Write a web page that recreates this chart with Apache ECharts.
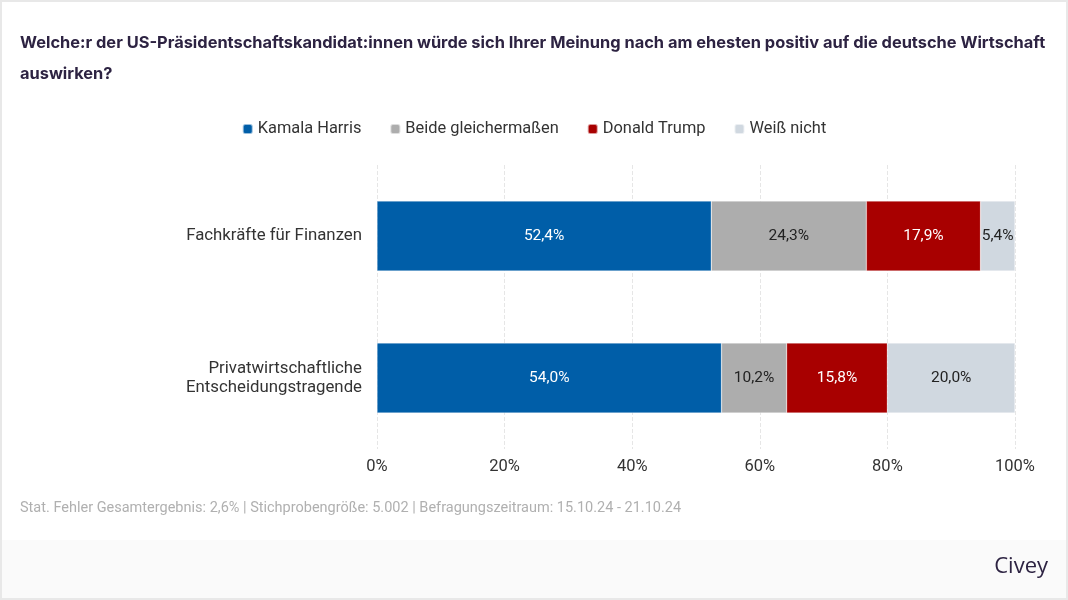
<!DOCTYPE html>
<html><head><meta charset="utf-8">
<script src="https://cdn.jsdelivr.net/npm/echarts@6/dist/echarts.min.js"></script>
<style>
html,body{margin:0;padding:0;background:#fff;}
#wrap{position:relative;width:1068px;height:600px;box-sizing:border-box;border:2px solid #e8e8e8;overflow:hidden;}
#chart{position:absolute;left:-2px;top:-2px;width:1068px;height:600px;}
</style></head>
<body><div id="wrap"><div id="chart"></div></div>
<script>
const categories = ['Fachkräfte für Finanzen', 'Privatwirtschaftliche\nEntscheidungstragende'];
const seriesNames = ['Kamala Harris', 'Beide gleichermaßen', 'Donald Trump', 'Weiß nicht'];
const harris = [52.4, 54.0];
const beide = [24.3, 10.2];
const trump = [17.9, 15.8];
const weissNicht = [5.4, 20.0];
const xTicks = [0, 20, 40, 60, 80, 100];

const colors = ['#005ea8', '#adadad', '#a80000', '#d0d8e0'];
const labelColors = ['#ffffff', '#222222', '#ffffff', '#222222'];
const values = [harris, beide, trump, weissNicht];

const chart = echarts.init(document.getElementById('chart'));
chart.setOption({
  animation: false,
  title: {
    text: 'Welche:r der US-Präsidentschaftskandidat:innen würde sich Ihrer Meinung nach am ehesten positiv auf die deutsche Wirtschaft\nauswirken?',
    left: 15, top: 23,
    textStyle: {fontFamily: 'Inter', fontWeight: 'bold', fontSize: 16.4, color: '#2d2342', lineHeight: 31}
  },
  legend: {
    top: 116, left: 'center', itemWidth: 10, itemHeight: 10, itemGap: 28,
    icon: 'roundRect',
    textStyle: {fontFamily: 'Roboto', fontSize: 16.4, color: '#333'},
    data: seriesNames
  },
  grid: {left: 377, right: 53, top: 165, bottom: 151},
  xAxis: {
    type: 'value', min: 0, max: 100, interval: 20,
    axisLabel: {formatter: v => v + '%', fontFamily: 'Roboto', fontSize: 16.5, color: '#333', margin: 9},
    splitLine: {show: true, lineStyle: {color: '#e6e6e6', type: 'dashed'}},
    axisLine: {show: false}, axisTick: {show: false}
  },
  yAxis: {
    type: 'category', data: categories, inverse: true,
    axisLine: {show: false}, axisTick: {show: false},
    axisLabel: {fontFamily: 'Roboto', fontSize: 16.8, color: '#333', margin: 15, lineHeight: 19}
  },
  series: seriesNames.map((name, i) => ({
    name, type: 'bar', stack: 'total', barWidth: 70,
    data: values[i],
    itemStyle: {color: colors[i], borderColor: 'rgba(255,255,255,0.6)', borderWidth: 0.5},
    label: {show: true, position: 'inside', formatter: p => p.value.toFixed(1).replace('.', ',') + '%',
      fontFamily: 'Roboto', fontWeight: 'normal', fontSize: 15.5, color: labelColors[i]}
  })),
  graphic: [
    {type: 'rect', left: 0, top: 540, shape: {width: 1068, height: 60}, style: {fill: '#fafafa'}, z: -10},
    {type: 'text', left: 20, top: 501, style: {text: 'Stat. Fehler Gesamtergebnis: 2,6% | Stichprobengröße: 5.002 | Befragungszeitraum: 15.10.24 - 21.10.24', fill: '#b0b0b0', font: '14.5px Roboto'}},
    {type: 'text', right: 20, top: 556, style: {text: 'Civey', fill: '#2d2342', font: '22px "Open Sans"'}}
  ]
});
</script></body></html>
